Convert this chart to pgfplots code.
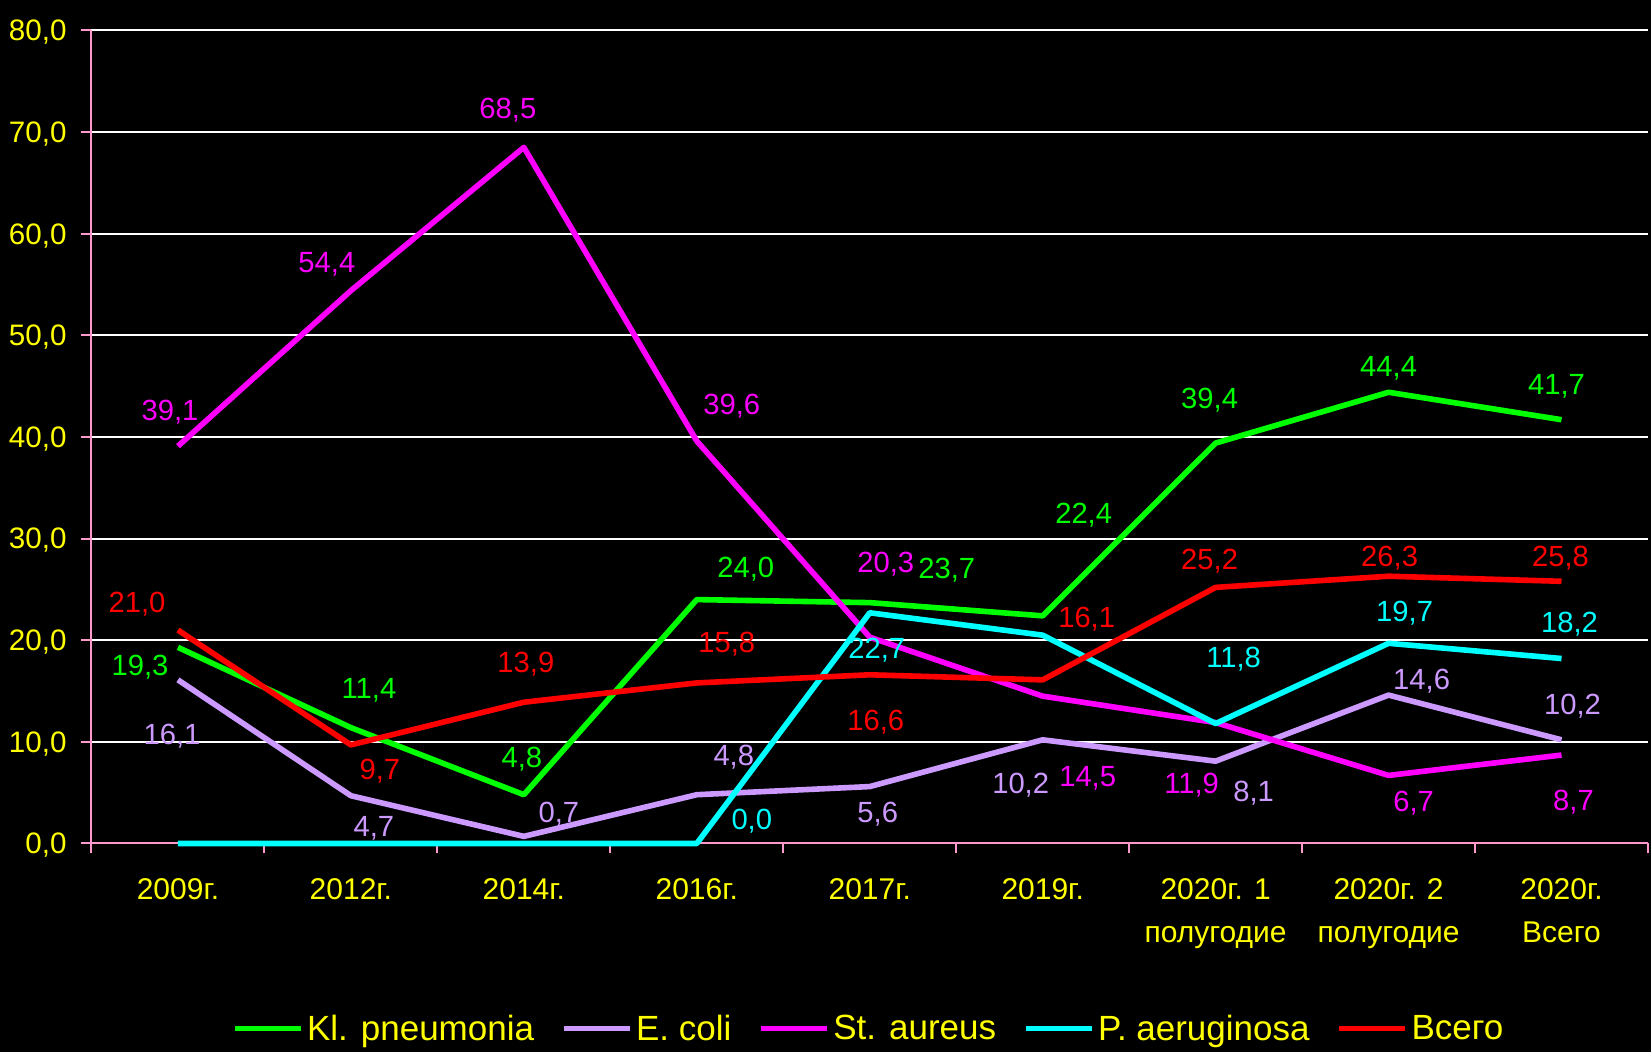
\documentclass[border=0pt]{standalone}
\usepackage{pgfplots}
\pgfplotsset{compat=1.18}
\usepackage{pgfplotstable}
\usepackage{fontspec}
\setmainfont{Liberation Sans}

\definecolor{klgreen}{RGB}{0,255,0}
\definecolor{ecoli}{RGB}{204,153,255}
\definecolor{staur}{RGB}{255,0,255}
\definecolor{pacyan}{RGB}{0,255,255}
\definecolor{vsred}{RGB}{255,0,0}
\definecolor{tyellow}{RGB}{255,255,0}
\definecolor{axispink}{RGB}{255,153,204}

% x = category index, y = value, dx/dy = label offset (pt)
\pgfplotstableread{
x y dx dy
0 19.3 -19 -9
1 11.4 9 19.5
2 4.8 -1 18.5
3 24.0 24.5 16
4 23.7 38.5 17
5 22.4 20.5 51.5
6 39.4 -3 22.5
7 44.4 0 13
8 41.7 -2.5 17.5
}\kpn

\pgfplotstableread{
x y dx dy
0 16.1 -3 -27
1 4.7 11.5 -15.5
2 0.7 17.5 12
3 4.8 18.5 19.5
4 5.6 4 -13
5 10.2 -11 -21.5
6 8.1 19 -15
7 14.6 16.5 8
8 10.2 5.5 18
}\eco

\pgfplotstableread{
x y dx dy
0 39.1 -4 18
1 54.4 -12 14
2 68.5 -8 19.5
3 39.6 17.5 18.5
4 20.3 8 37.5
5 14.5 22.5 -40
6 11.9 -12 -30.5
7 6.7 12.5 -13
8 8.7 6 -22.5
}\sta

\pgfplotstableread{
x y
0 0.0
1 0.0
2 0.0
3 0.0
4 22.7
5 20.5
6 11.8
7 19.7
8 18.2
}\pae

\pgfplotstableread{
x y dx dy
3 0.0 27.5 12
4 22.7 3.5 -18
6 11.8 9 33
7 19.7 8 16
8 18.2 4 18
}\paeLab

\pgfplotstableread{
x y dx dy
0 21.0 -20.5 14
1 9.7 14.5 -12
2 13.9 1 20
3 15.8 15 20.5
4 16.6 3 -23
5 16.1 22 31.5
6 25.2 -3 14
7 26.3 0.5 10
8 25.8 -0.5 12.5
}\vse

% axis scale: 86.472pt per category, 5.08125pt per unit of y
\def\xunit{86.472}
\def\yunit{5.08125}

\pgfplotsset{
  series/.style={draw=#1, line width=2.8pt, mark=none, line join=round},
  vlabels/.style={
    draw=none, mark=none, forget plot, point meta=\thisrow{y},
    nodes near coords={\pgfmathprintnumber{\pgfplotspointmeta}},
    every node near coord/.append style={anchor=center,
      font=\fontsize{14.6}{16}\selectfont, text depth=0pt, inner sep=0pt, text=#1}
  },
  table/labelpos/.style={x expr=\thisrow{x}+\thisrow{dx}/\xunit, y expr=\thisrow{y}+\thisrow{dy}/\yunit},
}

\begin{document}
\begin{tikzpicture}
\fill[black] (-45.75pt,-104.25pt) rectangle (779.75pt,421.75pt);
\begin{axis}[
  scale only axis,
  width=778.25pt, height=406.5pt,
  xmin=-0.5, xmax=8.5, ymin=0, ymax=80,
  clip=false,
  axis x line*=bottom, axis y line*=left,
  axis line style={draw=axispink, line width=1pt, -},
  tick style={draw=axispink, line width=1pt},
  tick align=outside, major tick length=5pt,
  ytick={0,10,...,80},
  xtick={-0.5,0.5,...,8.5}, xticklabels={},
  extra x ticks={0,1,...,8},
  extra x tick labels={2009г.,2012г.,2014г.,2016г.,2017г.,2019г.,{2020г. 1\\полугодие},{2020г. 2\\полугодие},{2020г.\\Всего}},
  extra x tick style={tick style={draw=none}},
  ymajorgrids, grid style={draw=white, line width=1pt},
  /pgf/number format/fixed, /pgf/number format/fixed zerofill,
  /pgf/number format/precision=1, /pgf/number format/use comma,
  /pgf/number format/assume math mode=true,
  yticklabel style={font=\fontsize{14.8}{17}\selectfont, text=tyellow, inner sep=0pt, xshift=-7.25pt, text depth=0pt},
  xticklabel style={font=\fontsize{15}{21.75}\selectfont, text=tyellow, align=center, inner sep=0pt, yshift=-12.25pt},
  legend columns=-1,
  legend style={at={(0.5,-0.228)}, anchor=center, draw=none, fill=none, text=tyellow,
    font=\fontsize{17.5}{20}\selectfont,
    /tikz/every even column/.append style={column sep=11.5pt}},
  legend image code/.code={\draw[#1, line width=2.5pt] (0pt,0pt) -- (33pt,0pt);},
]
\addplot[series=klgreen] table[x=x,y=y]{\kpn};
\addplot[series=ecoli] table[x=x,y=y]{\eco};
\addplot[series=staur] table[x=x,y=y]{\sta};
\addplot[series=pacyan] table[x=x,y=y]{\pae};
\addplot[series=vsred] table[x=x,y=y]{\vse};
\legend{Kl. pneumonia, E. coli, St. aureus, P. aeruginosa, Всего}

\addplot[vlabels=klgreen] table[labelpos]{\kpn};
\addplot[vlabels=ecoli] table[labelpos]{\eco};
\addplot[vlabels=staur] table[labelpos]{\sta};
\addplot[vlabels=pacyan] table[labelpos]{\paeLab};
\addplot[vlabels=vsred] table[labelpos]{\vse};
\end{axis}
\pgfresetboundingbox
\path[use as bounding box] (-45.75pt,-104.25pt) rectangle (779.75pt,421.75pt);
\end{tikzpicture}
\end{document}
